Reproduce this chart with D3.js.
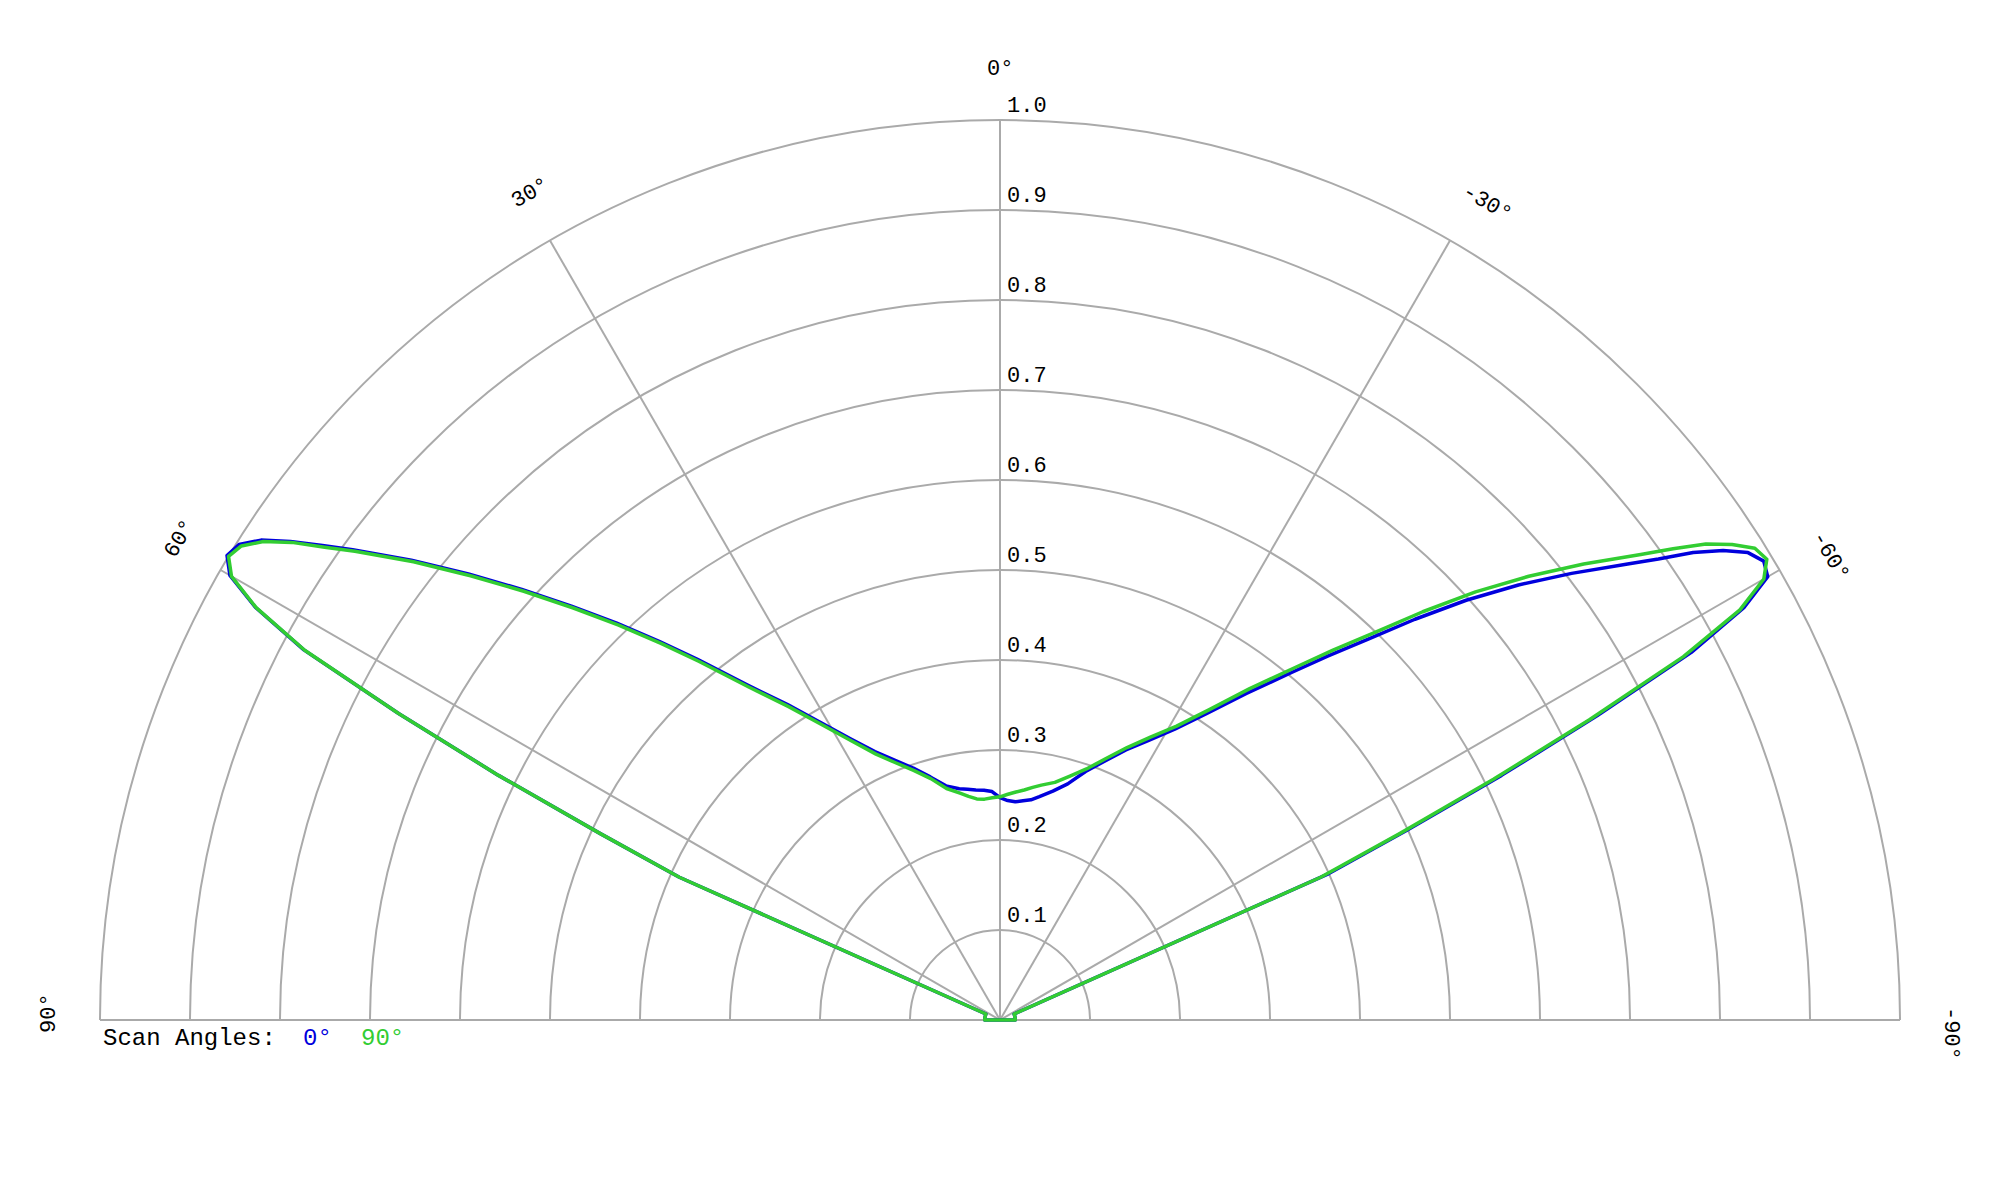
<!DOCTYPE html>
<html>
<head>
<meta charset="utf-8">
<script src="https://cdn.jsdelivr.net/npm/d3@7"></script>
<style>
    body { margin: 0; background: #fff; }
    text { font-family: 'Courier New', 'Liberation Mono', monospace; }
</style>
</head>
<body>
<div id="chart"></div>
<script>
// angles in degrees, positive to the left of 0 deg (top)
const angles = [-90, -80, -70, -67, -66, -65, -64, -63, -62, -61, -60, -59, -58, -57, -56, -55, -54, -52, -50,
    -48, -46, -44, -42, -40, -37, -34, -31, -28, -25, -22, -19, -16, -13, -10, -8, -6, -4, -2,
    0, 2, 4, 6, 8, 10, 13, 16, 19, 22, 25, 28, 31, 34, 37, 40, 42, 44, 46, 48,
    50, 52, 54, 55, 56, 57, 58, 59, 60, 61, 62, 63, 64, 65, 66, 67, 70, 80, 90];

// scan angle 0 deg (blue)
const scan0 = [0.017, 0.017, 0.017, 0.017, 0.40, 0.50, 0.62, 0.745, 0.87, 0.945, 0.985, 0.99, 0.98, 0.958, 0.929, 0.893, 0.862, 0.806, 0.752,
    0.697, 0.641, 0.588, 0.544, 0.504, 0.454, 0.411, 0.377, 0.352, 0.331, 0.310, 0.292, 0.273, 0.261, 0.252, 0.247, 0.245, 0.243, 0.244,
    0.247, 0.254, 0.256, 0.257, 0.259, 0.261, 0.267, 0.281, 0.296, 0.311, 0.329, 0.354, 0.385, 0.423, 0.466, 0.523, 0.566, 0.613, 0.662, 0.715,
    0.771, 0.830, 0.889, 0.919, 0.951, 0.979, 0.997, 1.002, 0.988, 0.946, 0.876, 0.75, 0.62, 0.49, 0.39, 0.017, 0.017, 0.017, 0.017];

// scan angle 90 deg (green)
const scan90 = [0.017, 0.017, 0.017, 0.017, 0.39, 0.49, 0.61, 0.735, 0.86, 0.94, 0.98, 0.994, 0.989, 0.970, 0.946, 0.913, 0.880, 0.823, 0.767,
    0.711, 0.653, 0.598, 0.553, 0.512, 0.461, 0.416, 0.381, 0.356, 0.334, 0.313, 0.295, 0.282, 0.271, 0.265, 0.261, 0.257, 0.254, 0.251,
    0.248, 0.247, 0.246, 0.247, 0.251, 0.256, 0.264, 0.279, 0.293, 0.308, 0.326, 0.351, 0.382, 0.42, 0.463, 0.52, 0.563, 0.61, 0.659, 0.712,
    0.768, 0.827, 0.886, 0.916, 0.949, 0.976, 0.994, 1.0, 0.986, 0.945, 0.875, 0.75, 0.62, 0.49, 0.39, 0.017, 0.017, 0.017, 0.017];

const ringValues = [0.1, 0.2, 0.3, 0.4, 0.5, 0.6, 0.7, 0.8, 0.9, 1.0];
const spokeAngles = [90, 60, 30, 0, -30, -60, -90];
const spokeLabels = ['90°', '60°', '30°', '0°', '-30°', '-60°', '-90°'];

const series = [
    { name: '0°', values: scan0, color: '#0000dd' },
    { name: '90°', values: scan90, color: '#32cd32' }
];

const width = 2000;
const height = 1200;
const cx = 1000;
const cy = 1020;
const R = 900;
const rad = a => -a * Math.PI / 180;

const r = d3.scaleLinear().domain([0, 1]).range([0, R]);

const svg = d3.select('#chart')
    .append('svg')
    .attr('width', width)
    .attr('height', height);

const g = svg.append('g')
    .attr('transform', `translate(${cx},${cy})`);

// rings
const ringArc = d3.arc()
    .innerRadius(d => r(d))
    .outerRadius(d => r(d))
    .startAngle(-Math.PI / 2)
    .endAngle(Math.PI / 2);

g.append('g')
    .selectAll('path')
    .data(ringValues)
    .join('path')
    .attr('d', ringArc)
    .attr('fill', 'none')
    .attr('stroke', '#aaa')
    .attr('stroke-width', 2);

// spokes
g.append('g')
    .selectAll('line')
    .data(spokeAngles)
    .join('line')
    .attr('x1', 0)
    .attr('y1', 0)
    .attr('x2', d => r(1) * Math.sin(rad(d)))
    .attr('y2', d => -r(1) * Math.cos(rad(d)))
    .attr('stroke', '#aaa')
    .attr('stroke-width', 2);

// ring labels
g.append('g')
    .selectAll('text')
    .data(ringValues)
    .join('text')
    .attr('x', 7)
    .attr('y', d => -r(d) - 8)
    .attr('font-size', '22px')
    .attr('fill', '#000')
    .text(d3.format('.1f'));

// angle labels
g.append('g')
    .selectAll('text')
    .data(spokeAngles)
    .join('text')
    .attr('transform', d => {
        const x = (R + 45) * Math.sin(rad(d));
        const y = -(R + 45) * Math.cos(rad(d));
        return `translate(${x},${y}) rotate(${-d})`;
    })
    .attr('dx', -13)
    .attr('font-size', '22px')
    .attr('fill', '#000')
    .text((d, i) => spokeLabels[i]);

// pattern lines
const line = d3.lineRadial()
    .angle(d => rad(d[0]))
    .radius(d => r(d[1]))
    .curve(d3.curveLinearClosed);

g.append('g')
    .selectAll('path')
    .data(series)
    .join('path')
    .attr('d', s => line(angles.map((a, i) => [a, s.values[i]])))
    .attr('fill', 'none')
    .attr('stroke', s => s.color)
    .attr('stroke-width', 3.5)
    .attr('stroke-linejoin', 'round');

// legend
const legend = svg.append('g')
    .attr('font-size', '24px');

legend.append('text')
    .attr('x', 103)
    .attr('y', 1045)
    .attr('fill', '#000')
    .text('Scan Angles:');

legend.selectAll('text.item')
    .data(series)
    .join('text')
    .attr('class', 'item')
    .attr('x', (d, i) => 303 + i * 58)
    .attr('y', 1045)
    .attr('fill', d => d.color)
    .text(d => d.name);
</script>
</body>
</html>
